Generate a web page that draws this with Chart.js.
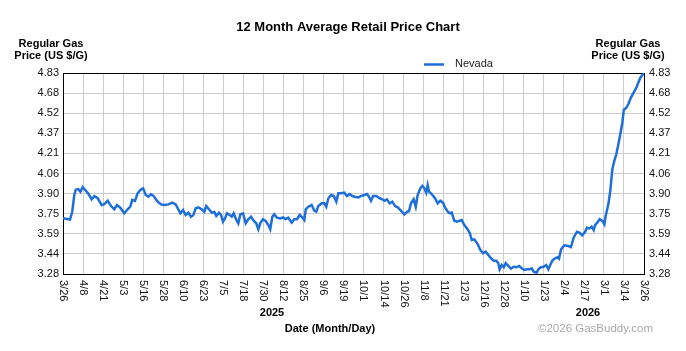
<!DOCTYPE html>
<html>
<head>
<meta charset="utf-8">
<script src="https://cdn.jsdelivr.net/npm/chart.js@4/dist/chart.umd.min.js"></script>
<style>
html,body{margin:0;padding:0;background:#fff;}
#wrap{width:686px;height:351px;}
</style>
</head>
<body>
<div id="wrap"><canvas id="c" width="686" height="351"></canvas></div>
<script>
// ---- data (days since 3/26/2025, regular gas price US $/G) ----
const seriesName = 'Nevada';
const days = [
  0, 4.4, 5.8, 7.1, 8.0, 9.6, 10.9, 12.4, 13.8, 15.9,
  18.0, 19.7, 21.8, 24.3, 25.8, 28.1, 30.2, 32.2, 33.9, 36.0,
  38.5, 40.6, 42.3, 43.5, 45.2, 46.9, 48.6, 50.3, 52.0, 53.6,
  55.3, 57.0, 58.6, 59.9, 61.6, 63.6, 66.2, 68.7, 70.8, 72.4,
  73.7, 75.4, 77.1, 78.7, 80.4, 81.9, 83.4, 85.0, 87.1, 88.8,
  90.0, 91.7, 93.4, 95.1, 96.3, 98.0, 99.3, 100.5, 101.8, 103.0,
  104.7, 106.0, 107.2, 108.9, 110.1, 111.4, 113.1, 114.8, 116.4, 118.1,
  119.8, 121.4, 122.7, 123.9, 125.6, 127.3, 129.0, 130.2, 131.5, 132.7,
  134.4, 136.5, 138.2, 139.9, 141.5, 143.7, 145.3, 147.0, 148.7, 150.3,
  151.6, 152.5, 154.1, 156.2, 157.9, 159.1, 160.4, 162.5, 164.2, 165.4,
  166.7, 168.4, 170.1, 171.7, 173.0, 174.6, 176.7, 178.4, 180.1, 181.7,
  183.4, 185.5, 187.2, 189.3, 191.0, 192.2, 193.5, 194.8, 196.8, 199.0,
  200.6, 201.9, 203.5, 205.2, 206.9, 208.6, 210.3, 212.3, 214.4, 216.1,
  217.4, 218.6, 220.3, 221.6, 222.8, 224.5, 225.7, 227.0, 228.2, 229.1,
  230.0, 231.6, 233.7, 235.4, 237.0, 238.7, 240.0, 241.7, 242.9, 244.2,
  245.8, 247.5, 250.5, 252.1, 253.8, 255.5, 256.8, 258.4, 260.5, 262.2,
  263.9, 265.6, 267.2, 268.9, 270.6, 272.2, 273.5, 274.3, 275.6, 276.9,
  278.1, 279.8, 281.4, 283.1, 284.8, 286.5, 288.2, 289.8, 291.5, 293.2,
  294.5, 295.7, 297.5, 298.6, 300.3, 302.0, 303.6, 304.9, 306.1, 307.4,
  309.1, 310.8, 311.6, 312.9, 314.9, 317.5, 319.1, 320.8, 322.9, 324.6,
  326.2, 327.9, 329.2, 330.9, 332.1, 333.4, 334.2, 335.9, 337.2, 338.8,
  340.1, 340.9, 342.6, 343.8, 345.1, 346.3, 347.6, 348.9, 350.1, 351.4,
  352.3, 353.9, 355.1, 356.8, 358.5, 360.2, 361.4, 362.7, 364.4, 365
];
const prices = [
  3.71, 3.70, 3.76, 3.89, 3.93, 3.935, 3.915, 3.95, 3.93, 3.90,
  3.856, 3.88, 3.864, 3.812, 3.817, 3.845, 3.804, 3.779, 3.812, 3.791,
  3.748, 3.779, 3.799, 3.851, 3.843, 3.902, 3.928, 3.941, 3.889, 3.876,
  3.894, 3.881, 3.851, 3.833, 3.817, 3.812, 3.817, 3.83, 3.817, 3.779,
  3.748, 3.773, 3.735, 3.753, 3.722, 3.735, 3.787, 3.794, 3.779, 3.76,
  3.804, 3.779, 3.753, 3.758, 3.727, 3.753, 3.735, 3.683, 3.709, 3.748,
  3.735, 3.722, 3.748, 3.696, 3.671, 3.74, 3.748, 3.671, 3.702, 3.722,
  3.691, 3.671, 3.625, 3.671, 3.702, 3.689, 3.658, 3.625, 3.722, 3.74,
  3.714, 3.709, 3.717, 3.704, 3.714, 3.676, 3.702, 3.702, 3.735, 3.717,
  3.696, 3.779, 3.799, 3.812, 3.768, 3.76, 3.804, 3.825, 3.825, 3.799,
  3.864, 3.889, 3.881, 3.838, 3.902, 3.902, 3.907, 3.881, 3.897, 3.881,
  3.876, 3.871, 3.881, 3.889, 3.897, 3.876, 3.845, 3.881, 3.881, 3.864,
  3.856, 3.845, 3.856, 3.825, 3.838, 3.804, 3.794, 3.768, 3.74, 3.76,
  3.766, 3.825, 3.856, 3.799, 3.889, 3.941, 3.959, 3.941, 3.907, 3.966,
  3.915, 3.897, 3.864, 3.825, 3.845, 3.83, 3.794, 3.76, 3.748, 3.753,
  3.691, 3.683, 3.696, 3.658, 3.632, 3.598, 3.542, 3.547, 3.511, 3.465,
  3.44, 3.452, 3.427, 3.401, 3.383, 3.383, 3.363, 3.316, 3.349, 3.332,
  3.363, 3.342, 3.321, 3.336, 3.332, 3.342, 3.324, 3.311, 3.316, 3.316,
  3.324, 3.298, 3.29, 3.316, 3.332, 3.336, 3.349, 3.316, 3.349, 3.383,
  3.401, 3.409, 3.398, 3.47, 3.501, 3.496, 3.488, 3.56, 3.606, 3.598,
  3.578, 3.604, 3.637, 3.632, 3.645, 3.619, 3.655, 3.681, 3.702, 3.689,
  3.663, 3.727, 3.817, 3.92, 4.087, 4.151, 4.203, 4.28, 4.357, 4.447,
  4.545, 4.562, 4.589, 4.64, 4.678, 4.717, 4.755, 4.794, 4.82, 4.83
];
const xTickLabels = ['3/26','4/8','4/21','5/3','5/16','5/28','6/10','6/23','7/5','7/18',
  '7/30','8/12','8/25','9/6','9/19','10/1','10/14','10/26','11/8','11/21',
  '12/3','12/16','12/28','1/10','1/23','2/4','2/17','3/1','3/14','3/26'];
const yTickLabels = ['3.28','3.44','3.59','3.75','3.90','4.06','4.21','4.37','4.52','4.68','4.83'];
const yMin = 3.28, yMax = 4.83, xSpan = 365;
const yearLabels = ['2025', '2026'];

const FONT = "'Liberation Sans', Arial, sans-serif";
const LINE_COLOR = '#1e6fd9';

const points = days.map((d, i) => ({x: d, y: prices[i]}));

function yTicks(scale) {
  scale.ticks = yTickLabels.map((l, i) => ({value: yMin + i * (yMax - yMin) / (yTickLabels.length - 1)}));
}

const extras = {
  id: 'extras',
  beforeDatasetsDraw(chart) {
    const {ctx, chartArea: a} = chart;
    ctx.save();
    ctx.strokeStyle = '#000';
    ctx.lineWidth = 1;
    ctx.strokeRect(a.left + 0.5, a.top + 0.5, a.right - a.left, a.bottom - a.top);
    ctx.restore();
  },
  afterDraw(chart) {
    const {ctx, chartArea: a} = chart;
    const xs = chart.scales.x;
    ctx.save();
    ctx.fillStyle = '#000';
    // title
    ctx.font = 'bold 13px ' + FONT;
    ctx.textAlign = 'center';
    ctx.textBaseline = 'middle';
    ctx.fillText('12 Month Average Retail Price Chart', 348, 27);
    // axis titles
    ctx.font = 'bold 11px ' + FONT;
    ctx.fillText('Regular Gas', 51, 44);
    ctx.fillText('Price (US $/G)', 51, 56);
    ctx.fillText('Regular Gas', 628, 44);
    ctx.fillText('Price (US $/G)', 628, 56);
    // legend
    ctx.strokeStyle = LINE_COLOR;
    ctx.lineWidth = 2.5;
    ctx.beginPath();
    ctx.moveTo(424, 64.5);
    ctx.lineTo(444, 64.5);
    ctx.stroke();
    ctx.font = '11px ' + FONT;
    ctx.fillStyle = '#222';
    ctx.textAlign = 'left';
    ctx.fillText(seriesName, 455, 64);
    // x tick labels (rotated clockwise)
    ctx.fillStyle = '#111';
    ctx.font = '11px ' + FONT;
    xTickLabels.forEach((lab, i) => {
      const px = xs.getPixelForValue(i * xSpan / (xTickLabels.length - 1));
      ctx.save();
      ctx.translate(px, a.bottom + 6);
      ctx.rotate(Math.PI / 2);
      ctx.textAlign = 'left';
      ctx.textBaseline = 'middle';
      ctx.fillText(lab, 0, 0);
      ctx.restore();
    });
    // years
    ctx.fillStyle = '#000';
    ctx.font = 'bold 11px ' + FONT;
    ctx.textAlign = 'center';
    ctx.fillText(yearLabels[0], 272, 313);
    ctx.fillText(yearLabels[1], 588, 313);
    ctx.fillText('Date (Month/Day)', 330, 329);
    // copyright
    ctx.fillStyle = '#a8a8a8';
    ctx.font = '11.5px ' + FONT;
    ctx.textAlign = 'left';
    ctx.fillText('\u00A92026 GasBuddy.com', 538, 329);
    ctx.restore();
  }
};

new Chart(document.getElementById('c'), {
  type: 'line',
  data: {
    datasets: [{
      label: seriesName,
      data: points,
      borderColor: LINE_COLOR,
      borderWidth: 2.5,
      pointRadius: 0,
      tension: 0,
      fill: false
    }]
  },
  options: {
    responsive: false,
    animation: false,
    events: [],
    layout: {padding: {top: 73, left: 0, right: 0, bottom: 0}},
    plugins: {legend: {display: false}, title: {display: false}, tooltip: {enabled: false}},
    scales: {
      x: {
        type: 'linear',
        min: 0,
        max: xSpan,
        afterBuildTicks: (scale) => {
          scale.ticks = xTickLabels.map((l, i) => ({value: i * xSpan / (xTickLabels.length - 1)}));
        },
        afterFit: (scale) => { scale.height = 77; },
        ticks: {display: false},
        grid: {color: '#cccccc', lineWidth: 1, drawTicks: false},
        border: {display: false}
      },
      y: {
        type: 'linear',
        position: 'left',
        min: yMin,
        max: yMax,
        afterBuildTicks: yTicks,
        afterFit: (scale) => { scale.width = 63; },
        ticks: {
          padding: 4,
          color: '#111',
          font: {family: FONT, size: 11},
          callback: (v, i) => yTickLabels[i]
        },
        grid: {color: '#cccccc', lineWidth: 1, drawTicks: false},
        border: {display: false}
      },
      y2: {
        type: 'linear',
        position: 'right',
        min: yMin,
        max: yMax,
        afterBuildTicks: yTicks,
        afterFit: (scale) => { scale.width = 42; },
        ticks: {
          padding: 5,
          color: '#111',
          font: {family: FONT, size: 11},
          callback: (v, i) => yTickLabels[i]
        },
        grid: {display: false, drawTicks: false},
        border: {display: false}
      }
    }
  },
  plugins: [extras]
});
</script>
</body>
</html>
